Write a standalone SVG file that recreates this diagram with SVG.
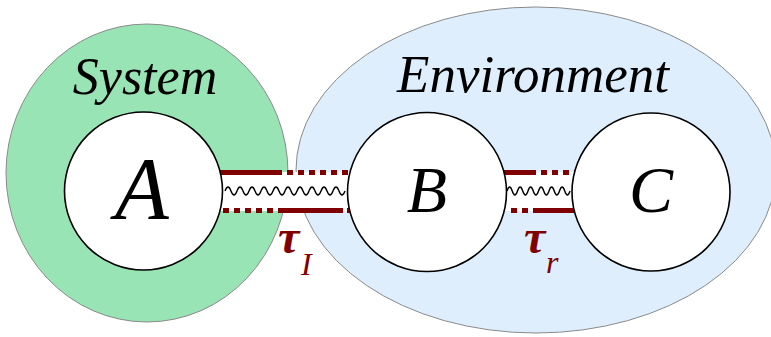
<svg xmlns="http://www.w3.org/2000/svg" width="771" height="337" viewBox="0 0 771 337">
<style>
.region{stroke:#8a8a8a;stroke-width:1}
.node{fill:#fff;stroke:#000;stroke-width:1.6}
.lbl{fill:#000;font-family:'Liberation Serif','DejaVu Serif',serif;font-style:italic;text-anchor:middle}
.bar{stroke:#800000;stroke-width:5;fill:none}
.dash{stroke-dasharray:6 5}
.wave{stroke:#000;stroke-width:1.4;fill:none}
.tau{fill:#800000;font-family:'Liberation Serif','DejaVu Serif',serif;font-style:italic}
</style>
<rect width="771" height="337" fill="#fff"/>
<g id="system">
<ellipse class="region" cx="147" cy="173" rx="141" ry="149" fill="#98e4b4"/>
<text class="lbl" x="145" y="94" font-size="52">System</text>
</g>
<g id="environment">
<ellipse class="region" cx="536" cy="170" rx="240" ry="163" fill="#deeefd"/>
<text class="lbl" x="533" y="92" font-size="53">Environment</text>
</g>
<g id="connectors">
<g id="channel-AB">
<rect x="215" y="172" width="140" height="39" fill="#fff"/>
<line class="bar" x1="215" y1="172.5" x2="282" y2="172.5"/>
<line class="bar dash" x1="287" y1="172.5" x2="355" y2="172.5"/>
<line class="bar dash" x1="223" y1="210.5" x2="274" y2="210.5"/>
<line class="bar" x1="278" y1="210.5" x2="343" y2="210.5"/>
<line class="bar" x1="347" y1="210.5" x2="355" y2="210.5"/>
<path class="wave" d="M225 191 q3 -8 6 0 t6 0 t6 0 t6 0 t6 0 t6 0 t6 0 t6 0 t6 0 t6 0 t6 0 t6 0 t6 0 t6 0 t6 0 t6 0 t6 0 t6 0 t6 0 t6 0"/>
</g>
<g id="channel-BC">
<rect x="500" y="172" width="78" height="39" fill="#fff"/>
<line class="bar" x1="500" y1="172.5" x2="536" y2="172.5"/>
<line class="bar dash" x1="541" y1="172.5" x2="578" y2="172.5"/>
<line class="bar dash" x1="511" y1="210.5" x2="528" y2="210.5"/>
<line class="bar" x1="533" y1="210.5" x2="578" y2="210.5"/>
<path class="wave" d="M507 191 q2.6 -8 5.25 0 t5.25 0 t5.25 0 t5.25 0 t5.25 0 t5.25 0 t5.25 0 t5.25 0 t5.25 0 t5.25 0 t5.25 0 t5.25 0"/>
</g>
</g>
<g id="nodeA">
<circle class="node" cx="143.5" cy="191" r="79"/>
<text class="lbl" x="142" y="218" font-size="88">A</text>
</g>
<g id="nodeB">
<circle class="node" cx="427" cy="192" r="79.5"/>
<text class="lbl" x="427" y="212" font-size="66">B</text>
</g>
<g id="nodeC">
<circle class="node" cx="651" cy="192" r="79"/>
<text class="lbl" x="651" y="212" font-size="66">C</text>
</g>
<g id="labels">
<text class="tau" x="278" y="253" font-size="48" font-weight="bold">τ<tspan font-size="32" font-weight="normal" x="301" y="275">I</tspan></text>
<text class="tau" x="524" y="253" font-size="48" font-weight="bold">τ<tspan font-size="32" font-weight="normal" x="546" y="273">r</tspan></text>
</g>
</svg>
